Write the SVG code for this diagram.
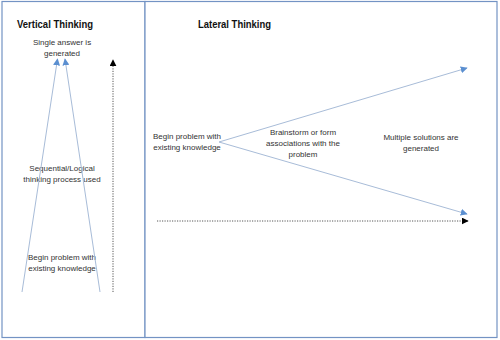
<svg xmlns="http://www.w3.org/2000/svg" width="500" height="340" viewBox="0 0 500 340">
<style>
.panel{fill:#fff;stroke:#7393c4;stroke-width:1.2}
.t{font-family:"Liberation Sans",Arial,sans-serif;font-size:8px;fill:#333;text-anchor:middle}
.h{font-family:"Liberation Sans",Arial,sans-serif;font-size:11px;font-weight:bold;fill:#111}
.bl{stroke:#a8bcd8;stroke-width:1;fill:none}
.dot{stroke:#444;stroke-width:0.9;stroke-dasharray:1.2 1.3;fill:none}
</style>
<defs>
<marker id="ab" viewBox="0 0 10 10" refX="9" refY="5" markerWidth="7" markerHeight="7" markerUnits="userSpaceOnUse" orient="auto"><path d="M0,0 L10,5 L0,10 z" fill="#5b8fd0"/></marker>
<marker id="ak" viewBox="0 0 10 10" refX="9" refY="5" markerWidth="7" markerHeight="7" markerUnits="userSpaceOnUse" orient="auto"><path d="M0,0 L10,5 L0,10 z" fill="#000"/></marker>
</defs>
<rect width="500" height="340" fill="#fff"/>
<g id="vertical-panel">
<rect class="panel" x="2" y="1.5" width="143" height="336"/>
<text class="h" x="17" y="28" textLength="76" lengthAdjust="spacingAndGlyphs">Vertical Thinking</text>
</g>
<g id="lateral-panel">
<rect class="panel" x="145" y="1.5" width="352" height="336"/>
<text class="h" x="198" y="28" textLength="73" lengthAdjust="spacingAndGlyphs">Lateral Thinking</text>
</g>
<g id="v-answer"><text class="t" x="62" y="45">Single answer is</text><text class="t" x="62" y="56">generated</text></g>
<g id="v-process"><text class="t" x="62" y="171">Sequential/Logical</text><text class="t" x="62" y="182">thinking process used</text></g>
<g id="v-begin"><text class="t" x="62" y="260">Begin problem with</text><text class="t" x="62" y="271">existing knowledge</text></g>
<g id="l-begin"><text class="t" x="187" y="139">Begin problem with</text><text class="t" x="187" y="150">existing knowledge</text></g>
<g id="l-brainstorm"><text class="t" x="303" y="135">Brainstorm or form</text><text class="t" x="303" y="146">associations with the</text><text class="t" x="303" y="157">problem</text></g>
<g id="l-multiple"><text class="t" x="421" y="140">Multiple solutions are</text><text class="t" x="421" y="151">generated</text></g>
<g id="connectors">
<line class="bl" x1="22" y1="292" x2="57.5" y2="59" marker-end="url(#ab)"/>
<line class="bl" x1="100" y1="292" x2="65" y2="59" marker-end="url(#ab)"/>
<line class="dot" x1="113" y1="292" x2="113" y2="60" marker-end="url(#ak)"/>
<line class="bl" x1="219" y1="142" x2="467" y2="68" marker-end="url(#ab)"/>
<line class="bl" x1="219" y1="142" x2="467" y2="214" marker-end="url(#ab)"/>
<line class="dot" x1="157" y1="221" x2="468" y2="221" marker-end="url(#ak)"/>
</g>
</svg>
